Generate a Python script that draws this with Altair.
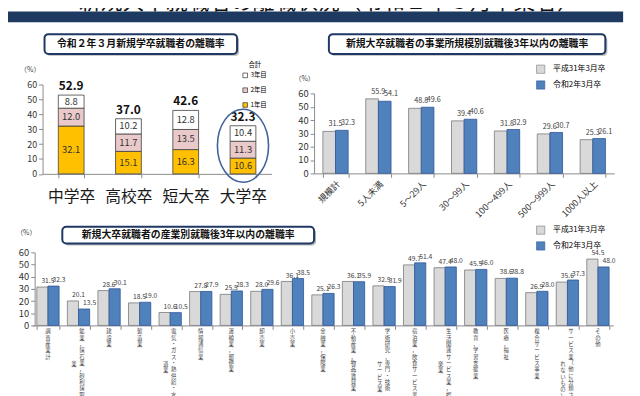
import altair as alt
import pandas as pd

FONT = "Noto Sans CJK JP"
W, H = 632, 388

header_title = "新規大卒就職者の離職状況（令和２年３月卒業者）"
p1_title = "令和２年３月新規学卒就職者の離職率"
p2_title = "新規大卒就職者の事業所規模別就職後3年以内の離職率"
p3_title = "新規大卒就職者の産業別就職後3年以内の離職率"

# ---- panel 1 data
p1_cats = ["中学卒", "高校卒", "短大卒", "大学卒"]
p1_series = ["1年目", "2年目", "3年目"]
p1_year1 = [32.1, 15.1, 16.3, 10.6]
p1_year2 = [12.0, 11.7, 13.5, 11.3]
p1_year3 = [8.8, 10.2, 12.8, 10.4]
p1_total = [52.9, 37.0, 42.6, 32.3]
p1_legend_title = "合計"

# ---- panel 2 data
series2 = ["平成31年3月卒", "令和2年3月卒"]
p2_cats = ["規模計", "5人未満", "5～29人", "30～99人", "100～499人", "500～999人", "1000人以上"]
p2_h31 = [31.5, 55.9, 48.8, 39.4, 31.8, 29.6, 25.3]
p2_r2 = [32.3, 54.1, 49.6, 40.6, 32.9, 30.7, 26.1]

# ---- panel 3 data
p3_cats = ["調査産業計", "鉱業，採石業，砂利採取業", "建設業", "製造業",
           "電気・ガス・熱供給・水道業", "情報通信業", "運輸業，郵便業", "卸売業",
           "小売業", "金融業，保険業", "不動産業，物品賃貸業",
           "学術研究，専門・技術サービス業", "宿泊業，飲食サービス業",
           "生活関連サービス業，娯楽業", "教育，学習支援業", "医療，福祉",
           "複合サービス事業", "サービス業（他に分類されないもの）", "その他"]
p3_h31 = [31.5, 20.1, 28.6, 18.5, 10.6, 27.8, 25.5, 28.0, 36.1, 25.1, 36.1,
          32.5, 49.7, 47.4, 45.5, 38.6, 26.9, 35.6, 54.5]
p3_r2 = [32.3, 13.5, 30.1, 19.0, 10.5, 27.9, 28.3, 29.6, 38.5, 26.3, 35.9,
         31.9, 51.4, 48.0, 46.0, 38.8, 28.0, 37.3, 48.0]

COLORS1 = {"3年目": "#ffffff", "2年目": "#E9C9C9", "1年目": "#FFC000"}
GRAY, BLUE = "#D9D9D9", "#4F81BD"

# ---------- frames
rows = []
for i, c in enumerate(p1_cats):
    cum = 0.0
    for s, vals in zip(p1_series, [p1_year1, p1_year2, p1_year3]):
        v = vals[i]
        rows.append({"cat": c, "series": s, "v": v, "y0": cum, "y1": cum + v, "mid": cum + v / 2})
        cum += v
df1 = pd.DataFrame(rows)
df1t = pd.DataFrame({"cat": p1_cats, "total": p1_total})

df2 = pd.DataFrame(
    [{"cat": c, "series": series2[0], "v": a} for c, a in zip(p2_cats, p2_h31)]
    + [{"cat": c, "series": series2[1], "v": b} for c, b in zip(p2_cats, p2_r2)])

df3 = pd.DataFrame(
    [{"cat": c, "series": series2[0], "v": a} for c, a in zip(p3_cats, p3_h31)]
    + [{"cat": c, "series": series2[1], "v": b} for c, b in zip(p3_cats, p3_r2)])


def wrap_vertical(name, n=11):
    if len(name) <= n:
        return name, ""
    cut = n
    while cut > 0 and name[cut] in "ー」）、，。":
        cut -= 1
    return name[:cut], name[cut:]


lab_rows = []
for c in p3_cats:
    a, b = wrap_vertical(c)
    lab_rows.append({"cat": c, "col1": "\n".join(a), "col2": "\n".join(b), "ncol": 2 if b else 1})
df3l = pd.DataFrame(lab_rows)

one = pd.DataFrame({"k": [0]})


def deco_rect(x, x2, y, y2, **kw):
    return alt.Chart(one).mark_rect(**kw).encode(
        x=alt.value(x), x2=alt.value(x2), y=alt.value(y), y2=alt.value(y2))


def deco_text(x, y, text, **kw):
    return alt.Chart(pd.DataFrame({"t": [text]})).mark_text(**kw).encode(
        x=alt.value(x), y=alt.value(y), text="t:N")


def title_box(x, x2, y, y2, text):
    shadow = deco_rect(x + 2, x2 + 2, y + 2, y2 + 2, fill="#b8b8b8", cornerRadius=4)
    box = deco_rect(x, x2, y, y2, fill="white", stroke="#1F3864", strokeWidth=2, cornerRadius=4)
    t = deco_text((x + x2) / 2, (y + y2) / 2, text, fontSize=10, fontWeight="bold",
                  color="#111", font=FONT, align="center", baseline="middle")
    return [shadow, box, t]


# ---------- header
header = [
    deco_text(325, -1, header_title, fontSize=22, color="#111", font=FONT, align="center", baseline="alphabetic"),
    deco_rect(0, 623, 1, 12, fill="#1F3A60"),
]

AX = dict(domainColor="#8a8a8a", tickColor="#8a8a8a", labelColor="#333", grid=False,
          labelFont=FONT, titleFont=FONT, labelOverlap=False)

# ---------- panel 1
x1 = alt.X("cat:N", title=None,
           scale=alt.Scale(domain=p1_cats, range=[35, 267], paddingInner=0.55, paddingOuter=0.275),
           axis=alt.Axis(orient="bottom", offset=-222.5, labelAngle=0, labelFontSize=16,
                         labelColor="#1a1a1a", labelPadding=11, tickBand="extent", tickSize=4,
                         **{k: v for k, v in AX.items() if k != "labelColor"}))
y1s = alt.Scale(domain=[0, 60], range=[165.5, 75], nice=False, zero=True)
y1ax = alt.Axis(orient="left", offset=-35, values=[0, 10, 20, 30, 40, 50, 60], tickSize=4,
                labelFontSize=9, title="（%）", titleAngle=0, titleFontSize=7, titleFontWeight="normal",
                titleX=-13, titleY=60, titleAlign="center", titleBaseline="middle", titleColor="#333", **AX)

bars1 = alt.Chart(df1).mark_bar(stroke="#404040", strokeWidth=0.8).encode(
    x=x1,
    y=alt.Y("y0:Q", scale=y1s, axis=y1ax, title=None),
    y2="y1:Q",
    color=alt.Color("series:N",
                    scale=alt.Scale(domain=["3年目", "2年目", "1年目"],
                                    range=[COLORS1["3年目"], COLORS1["2年目"], COLORS1["1年目"]]),
                    legend=alt.Legend(orient="none", legendX=237, legendY=52, title=p1_legend_title,
                                      titleFontSize=6.5, titleFontWeight="normal", titleFont=FONT,
                                      titleAnchor="middle", titlePadding=4,
                                      labelFontSize=6.5, labelFont=FONT, symbolType="square",
                                      symbolSize=22, symbolStrokeColor="#333", symbolStrokeWidth=0.7,
                                      rowPadding=7, labelOffset=2)),
)
seg1 = alt.Chart(df1).mark_text(fontSize=9.5, color="#333", font=FONT).encode(
    x=x1, y=alt.Y("mid:Q", scale=y1s, axis=y1ax, title=None), text=alt.Text("v:Q", format=".1f"))
tot1 = alt.Chart(df1t).mark_text(fontSize=12, fontWeight="bold", color="#111", baseline="bottom", dy=-2, font=FONT).encode(
    x=x1, y=alt.Y("total:Q", scale=y1s, axis=y1ax, title=None), text=alt.Text("total:Q", format=".1f"))
ell = alt.Chart(df1t).transform_filter(alt.datum.cat == "大学卒").mark_point(
    shape="M0,-1A0.7,1,0,1,1,0,1A0.7,1,0,1,1,0,-1Z", size=5476, filled=False,
    stroke="#41629C", strokeWidth=1.6, opacity=1).encode(x=x1, y=alt.value(137))
panel1 = alt.layer(bars1, seg1, tot1, ell)

# ---------- panel 2
x2 = alt.X("cat:N", title=None,
           scale=alt.Scale(domain=p2_cats, range=[310, 614], paddingInner=0.41, paddingOuter=0.205),
           axis=alt.Axis(orient="bottom", offset=-223, labelAngle=-45, labelAlign="right",
                         labelBaseline="top", labelFontSize=9, labelPadding=2, tickBand="extent",
                         tickSize=4, **AX))
y2s = alt.Scale(domain=[0, 60], range=[165, 84], nice=False, zero=True)
y2ax = alt.Axis(orient="left", offset=-310, values=[0, 10, 20, 30, 40, 50, 60], tickSize=4,
                labelFontSize=9.5, title="（%）", titleAngle=0, titleFontSize=7, titleFontWeight="normal",
                titleX=-10, titleY=69, titleAlign="center", titleBaseline="middle", titleColor="#333", **AX)
xo2 = alt.XOffset("series:N", sort=series2, scale=alt.Scale(domain=series2))
col2 = alt.Color("series:N", scale=alt.Scale(domain=series2, range=[GRAY, BLUE]),
                 legend=alt.Legend(orient="none", legendX=535, legendY=55, title=None,
                                   labelFontSize=8, labelFont=FONT, symbolType="square", symbolSize=70,
                                   symbolStrokeColor="#555", symbolStrokeWidth=0.6, rowPadding=5,
                                   labelOffset=8))
str2 = alt.Stroke("series:N", scale=alt.Scale(domain=series2, range=["#7a7a7a", "#2F5597"]), legend=None)
bars2 = alt.Chart(df2).mark_bar(strokeWidth=0.8).encode(
    x=x2, xOffset=xo2, y=alt.Y("v:Q", scale=y2s, axis=y2ax, title=None), color=col2, stroke=str2)
txt2 = alt.Chart(df2).mark_text(fontSize=7.3, color="#404040", baseline="bottom", dy=-3, dx=6.3, font=FONT).encode(
    x=x2, xOffset=xo2, y=alt.Y("v:Q", scale=y2s, axis=y2ax, title=None), text=alt.Text("v:Q", format=".1f"))
panel2 = alt.layer(bars2, txt2)

# ---------- panel 3
x3 = alt.X("cat:N", title=None,
           scale=alt.Scale(domain=p3_cats, range=[25, 613], paddingInner=0.27, paddingOuter=0.135),
           axis=alt.Axis(orient="bottom", offset=-69, labels=False, tickBand="extent", tickSize=4, **AX))
y3s = alt.Scale(domain=[0, 60], range=[319, 245], nice=False, zero=True)
y3ax = alt.Axis(orient="left", offset=-27, values=[0, 10, 20, 30, 40, 50, 60], tickSize=4,
                labelFontSize=9.5, title="（%）", titleAngle=0, titleFontSize=7, titleFontWeight="normal",
                titleX=-9, titleY=225, titleAlign="center", titleBaseline="middle", titleColor="#333", **AX)
xo3 = alt.XOffset("series:N", sort=series2, scale=alt.Scale(domain=series2))
col3 = alt.Color("series:N", scale=alt.Scale(domain=series2, range=[GRAY, BLUE]),
                 legend=alt.Legend(orient="none", legendX=535, legendY=218, title=None,
                                   labelFontSize=8, labelFont=FONT, symbolType="square", symbolSize=70,
                                   symbolStrokeColor="#555", symbolStrokeWidth=0.6, rowPadding=5,
                                   labelOffset=8))
str3 = alt.Stroke("series:N", scale=alt.Scale(domain=series2, range=["#7a7a7a", "#2F5597"]), legend=None)
bars3 = alt.Chart(df3).mark_bar(strokeWidth=0.8).encode(
    x=x3, xOffset=xo3, y=alt.Y("v:Q", scale=y3s, axis=y3ax, title=None), color=col3, stroke=str3)
txt3 = alt.Chart(df3).mark_text(fontSize=6.8, color="#404040", baseline="bottom", dy=-3, dx=5.6, font=FONT).encode(
    x=x3, xOffset=xo3, y=alt.Y("v:Q", scale=y3s, axis=y3ax, title=None), text=alt.Text("v:Q", format=".1f"))
LH = 6.4
FS = 5.5
lab_single = alt.Chart(df3l).transform_filter("datum.ncol == 1").mark_text(
    baseline="top", align="center", lineBreak="\n", fontSize=FS, lineHeight=LH, color="#444", font=FONT).encode(
    x=x3, y=alt.value(323), text="col1:N")
lab_right = alt.Chart(df3l).transform_filter("datum.ncol == 2").mark_text(
    baseline="top", align="center", lineBreak="\n", fontSize=FS, lineHeight=LH, color="#444", font=FONT, dx=3.5).encode(
    x=x3, y=alt.value(323), text="col1:N")
lab_left = alt.Chart(df3l).transform_filter("datum.ncol == 2").mark_text(
    baseline="middle", align="center", lineBreak="\n", fontSize=FS, lineHeight=LH, color="#444", font=FONT, dx=-4.5).encode(
    x=x3, y=alt.value(323 + 11 * LH / 2), text="col2:N")
panel3 = alt.layer(bars3, txt3, lab_single, lab_right, lab_left)

layers = header + title_box(37, 232, 24, 44, p1_title) + title_box(325, 605, 24, 44, p2_title) \
    + title_box(55, 310, 219, 236, p3_title) + [panel1, panel2, panel3]

chart = alt.layer(*layers).resolve_scale(
    x="independent", y="independent", color="independent", stroke="independent", xOffset="independent"
).properties(
    width=W, height=H, autosize=alt.AutoSizeParams(type="none"), padding=0, background="white"
).configure_view(stroke=None).configure_text(font=FONT).configure_legend(labelFont=FONT, titleFont=FONT)

chart.save("out.html", embed_options={"renderer": "svg", "actions": False})
